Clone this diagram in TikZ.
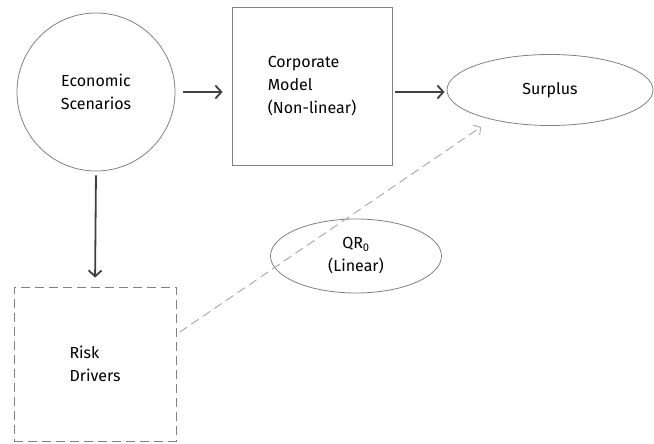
\documentclass[tikz,border=0pt]{standalone}
\usepackage{fontspec}
\setmainfont{Fira Sans}
\usetikzlibrary{shapes.geometric,arrows.meta}
\begin{document}
\begin{tikzpicture}[x=1pt,y=-1pt,
  font=\fontsize{16}{23}\selectfont,
  shapeline/.style={draw=black!50,line width=0.8pt},
  flow/.style={draw=black!75,line width=2.2pt,-{Straight Barb[length=6pt,width=13pt,line width=1.8pt]}},
  dashflow/.style={draw=black!35,line width=0.9pt,dash pattern=on 9pt off 5pt,-{Straight Barb[length=5pt,width=12pt]}}
]
\useasboundingbox (0,0) rectangle (654,444);
\node[shapeline,circle,minimum size=158pt,inner sep=0pt,align=center] (econ) at (96,92) {Economic\\Scenarios};
\node[shapeline,rectangle,minimum width=160pt,minimum height=158pt,align=left] (corp) at (312,86) {Corporate\\Model\\(Non-linear)};
\node[shapeline,ellipse,minimum width=206pt,minimum height=71pt,inner sep=0pt] (surplus) at (550,90) {Surplus};
\node[shapeline,dashed,dash pattern=on 9pt off 5pt,rectangle,minimum width=162pt,minimum height=154pt,align=left] (risk) at (95,364) {Risk\\Drivers};
\node[shapeline,ellipse,minimum width=171pt,minimum height=74pt,inner sep=0pt,align=center] (qr) at (356,256) {QR\textsubscript{0}\\(Linear)};
\coordinate (tip) at (481,127);
\draw[flow,shorten <=8pt,shorten >=9pt] (econ.east |- 0,92) -- (corp.west |- 0,92);
\draw[flow,shorten <=3pt,shorten >=2pt] (corp.east |- 0,92) -- (surplus.west |- 0,92);
\draw[flow,line width=1.8pt,shorten <=4pt,shorten >=9pt] (econ.south) -- (risk.north);
\draw[dashflow,shorten <=4pt] (risk.20) -- (tip);
\end{tikzpicture}
\end{document}
